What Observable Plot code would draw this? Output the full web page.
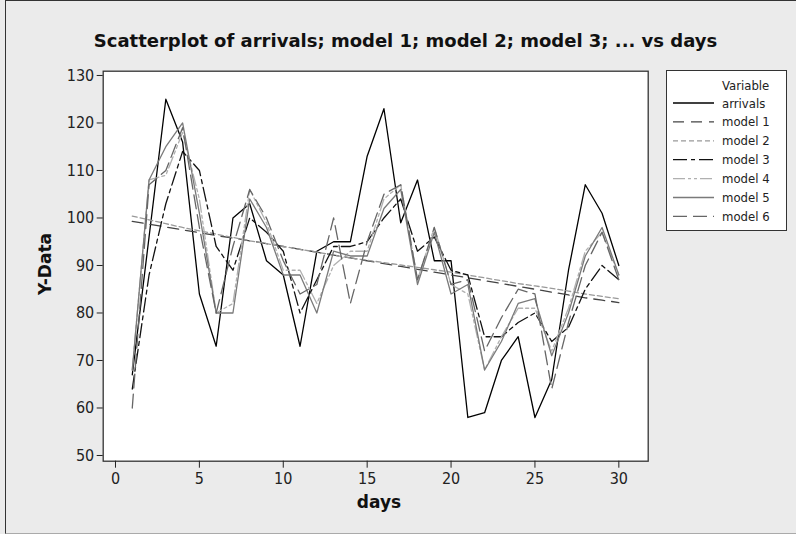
<!DOCTYPE html>
<html>
<head>
<meta charset="utf-8">
<script src="https://cdn.jsdelivr.net/npm/d3@7"></script>
<script src="https://cdn.jsdelivr.net/npm/@observablehq/plot@0.6"></script>
<style>
  html, body { margin: 0; padding: 0; background: #ebebeb; }
  #wrap { position: relative; width: 796px; height: 534px; overflow: hidden; background: #ebebeb; font-family: "DejaVu Sans Condensed", "DejaVu Sans", sans-serif; }
  #border { position: absolute; left: 5px; top: 0; width: 800px; height: 532px; border-left: 1px solid #333; border-top: 1px solid #333; border-bottom: 1px solid #aaa; }
  #title { position: absolute; left: 0; width: 811px; top: 30px; text-align: center; font-family: "DejaVu Sans", sans-serif; font-weight: bold; font-size: 18px; color: #111; }
  #xlabel { position: absolute; left: 279px; width: 200px; top: 492px; text-align: center; font-family: "DejaVu Sans", sans-serif; font-weight: bold; font-size: 17px; color: #111; }
  #ylabel { position: absolute; left: 45px; top: 264px; transform: translate(-50%, -50%) rotate(-90deg); font-family: "DejaVu Sans", sans-serif; font-weight: bold; font-size: 17px; color: #111; white-space: nowrap; }
  #chart { position: absolute; left: 0; top: 0; }
  #legend { position: absolute; left: 666px; top: 70px; width: 119px; height: 159px; background: white; border: 1px solid #333; }
</style>
</head>
<body>
<div id="wrap">
  <div id="border"></div>
  <div id="chart"></div>
  <div id="title">Scatterplot of arrivals; model 1; model 2; model 3; ... vs days</div>
  <div id="xlabel">days</div>
  <div id="ylabel">Y-Data</div>
  <div id="legend"></div>
</div>
<script>
const days = d3.range(1, 31);
const arrivals = [67, 96, 125, 116, 84, 73, 100, 103, 91, 88, 73, 93, 95, 95, 113, 123, 99, 108, 91, 91, 58, 59, 70, 75, 58, 66, 89, 107, 101, 90];
const model1 = [99.3, 98.7, 98.1, 97.5, 96.9, 96.3, 95.8, 95.2, 94.6, 94.0, 93.4, 92.8, 92.2, 91.6, 91.0, 90.4, 89.8, 89.2, 88.6, 88.0, 87.4, 86.8, 86.2, 85.6, 85.0, 84.4, 83.8, 83.2, 82.7, 82.2];
const model2 = [100.4, 99.6, 98.8, 98.0, 97.3, 96.6, 95.9, 95.2, 94.6, 94.0, 93.4, 92.8, 92.2, 91.6, 91.1, 90.6, 90.1, 89.6, 89.1, 88.6, 88.0, 87.4, 86.8, 86.2, 85.7, 85.2, 84.6, 84.0, 83.5, 83.0];
const model3 = [64, 88, 103, 114, 110, 94, 89, 100, 97, 93, 80, 87, 94, 94, 95, 100, 104, 93, 96, 89, 88, 75, 75, 78, 80, 74, 77, 85, 90, 87];
const model4 = [68, 108, 109, 118, 104, 80, 82, 106, 99, 89, 89, 82, 90, 93, 93, 104, 107, 87, 98, 86, 84, 68, 75, 81, 81, 72, 81, 93, 97, 88];
const model5 = [68, 108, 115, 120, 101, 80, 80, 104, 98, 88, 88, 80, 93, 92, 92, 102, 106, 86, 97, 84, 86, 68, 74, 82, 83, 71, 80, 92, 98, 88];
const model6 = [60, 107, 110, 119, 98, 80, 94, 106, 100, 91, 84, 86, 100, 82, 95, 105, 107, 87, 98, 86, 87, 72, 79, 85, 84, 64, 78, 90, 97, 87];
const yTicks = [50, 60, 70, 80, 90, 100, 110, 120, 130];
const xTicks = [0, 5, 10, 15, 20, 25, 30];

const seriesNames = ["arrivals", "model 1", "model 2", "model 3", "model 4", "model 5", "model 6"];
const seriesValues = [arrivals, model1, model2, model3, model4, model5, model6];
const styles = [
  {stroke: "#000", dash: null, width: 1.3},
  {stroke: "#444", dash: "11,7", width: 1.3},
  {stroke: "#999", dash: "5,3", width: 1.3},
  {stroke: "#111", dash: "14,4,4,4", width: 1.3},
  {stroke: "#b0b0b0", dash: "12,3,3,3,3,3", width: 1.3},
  {stroke: "#7a7a7a", dash: null, width: 1.3},
  {stroke: "#666", dash: "14,6", width: 1.3}
];

const marks = [Plot.frame({fill: "white"})];
seriesValues.forEach((vals, i) => {
  const rows = days.map((d, j) => ({day: d, value: vals[j]}));
  const s = styles[i];
  const opts = {x: "day", y: "value", stroke: s.stroke, strokeWidth: s.width};
  if (s.dash) opts.strokeDasharray = s.dash;
  marks.push(Plot.line(rows, opts));
});
marks.push(Plot.frame({stroke: "#333", strokeWidth: 1.3}));
marks.push(Plot.axisY({ticks: yTicks, tickSize: 6, tickPadding: 3, label: null}));
marks.push(Plot.axisX({ticks: xTicks, tickSize: 7, tickPadding: 4, label: null}));

const chart = Plot.plot({
  width: 796,
  height: 534,
  marginLeft: 102.7,
  marginRight: 148.3,
  marginTop: 70.7,
  marginBottom: 73.3,
  x: {domain: [-0.733, 31.75]},
  y: {domain: [48.8, 130.9]},
  style: {background: "transparent", fontFamily: "'DejaVu Sans Condensed', 'DejaVu Sans', sans-serif", fontSize: "16px", color: "#222"},
  marks
});
document.getElementById("chart").appendChild(chart);

// Legend
const legend = d3.select("#legend");
const lsvg = legend.append("svg").attr("width", 119).attr("height", 159)
  .style("font-family", "'DejaVu Sans Condensed', 'DejaVu Sans', sans-serif").style("font-size", "13px");
lsvg.append("text").attr("x", 55).attr("y", 14).attr("dy", "0.35em").attr("fill", "#222").text("Variable");
seriesNames.forEach((name, i) => {
  const y = 32 + i * 18.9;
  const s = styles[i];
  lsvg.append("line").attr("x1", 6).attr("x2", 47).attr("y1", y).attr("y2", y)
    .attr("stroke", s.stroke).attr("stroke-width", s.width)
    .attr("stroke-dasharray", s.dash || null);
  lsvg.append("text").attr("x", 55).attr("y", y).attr("dy", "0.35em").attr("fill", "#222").text(name);
});
</script>
</body>
</html>
